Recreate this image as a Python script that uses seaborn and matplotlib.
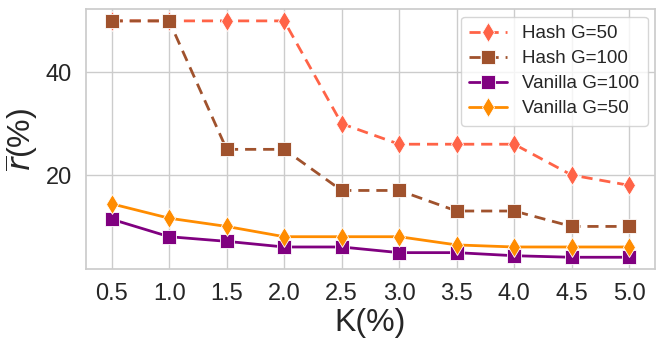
import matplotlib
matplotlib.use("Agg")
import matplotlib.pyplot as plt
import seaborn as sns
import pandas as pd

k_values = [0.5, 1.0, 1.5, 2.0, 2.5, 3.0, 3.5, 4.0, 4.5, 5.0]
hash_g50 = [50, 50, 50, 50, 30, 26, 26, 26, 20, 18]
hash_g100 = [50, 50, 25, 25, 17, 17, 13, 13, 10, 10]
vanilla_g100 = [11.4, 8.0, 7.1, 6.0, 6.0, 4.9, 4.9, 4.3, 4.0, 4.0]
vanilla_g50 = [14.4, 11.6, 10.0, 8.0, 8.0, 8.0, 6.4, 6.0, 6.0, 6.0]
x_ticks = [0.5, 1.0, 1.5, 2.0, 2.5, 3.0, 3.5, 4.0, 4.5, 5.0]
y_ticks = [20, 40]

sns.set_theme(style="whitegrid")
plt.rcParams['font.family'] = ['Liberation Sans', 'DejaVu Sans']
plt.rcParams['mathtext.fontset'] = 'dejavusans'

fig, ax = plt.subplots(figsize=(6.65, 3.49), dpi=100)
fig.subplots_adjust(left=0.129, right=0.985, top=0.974, bottom=0.229)

series = [
    ("Hash G=50", hash_g50, "#FF6347", "d", (4, 2.5)),
    ("Hash G=100", hash_g100, "#A0522D", "s", (4, 2.5)),
    ("Vanilla G=100", vanilla_g100, "#800080", "s", None),
    ("Vanilla G=50", vanilla_g50, "#FF8C00", "d", None),
]
for name, vals, color, marker, dash in series:
    df = pd.DataFrame({"K": k_values, "r": vals})
    kw = dict(color=color, marker=marker, markersize=10, linewidth=2,
              markeredgecolor="white", markeredgewidth=0.6, label=name)
    sns.lineplot(data=df, x="K", y="r", ax=ax, **kw)
    if dash is not None:
        ax.lines[-1].set_dashes(dash)

ax.set_xticks(x_ticks)
ax.set_xticklabels([f"{v:.1f}" for v in x_ticks])
ax.set_yticks(y_ticks)
ax.tick_params(axis='both', labelsize=17, pad=4)
ax.set_xlabel("K(%)", fontsize=23, labelpad=2)
ax.set_ylabel(r"$\overline{r}$(%)", fontsize=23, labelpad=4)
ax.legend(loc="upper right", fontsize=13.5, frameon=True, handlelength=2.0,
          borderpad=0.45, labelspacing=0.42, handletextpad=0.8,
          borderaxespad=0.4)

fig.savefig("out.png", dpi=100)
